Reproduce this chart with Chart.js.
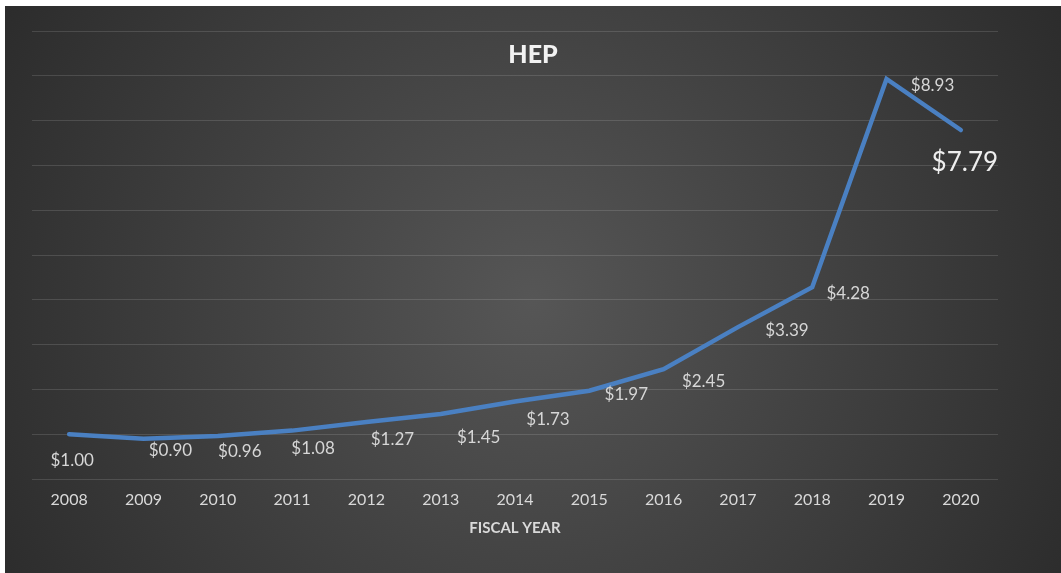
<!DOCTYPE html>
<html>
<head>
<meta charset="utf-8">
<script src="https://cdn.jsdelivr.net/npm/chart.js@4/dist/chart.umd.min.js"></script>
<style>
  html, body { margin: 0; padding: 0; background: #ffffff; }
  #wrap { position: absolute; left: 5px; top: 6px; width: 1056px; height: 567px; }
</style>
</head>
<body>
<div id="wrap"><canvas id="hepChart" width="1056" height="567"></canvas></div>
<script>
// Chart data
var years = ['2008', '2009', '2010', '2011', '2012', '2013', '2014', '2015', '2016', '2017', '2018', '2019', '2020'];
var hepValues = [1.00, 0.90, 0.96, 1.08, 1.27, 1.45, 1.73, 1.97, 2.45, 3.39, 4.28, 8.93, 7.79];

// Where each value label sits relative to its point (px)
var labelOffsets = [[3, 26], [27, 12], [22, 16], [21, 18], [26, 17], [38, 23], [33, 18], [37, 4], [40, 12], [49, 3], [36, 6], [46, 7], [4, 33]];

var FONT = 'Lato, "Open Sans", sans-serif';

// Dark radial background
var backgroundPlugin = {
  id: 'bg',
  beforeDraw: function (chart) {
    var ctx = chart.ctx;
    var w = chart.width, h = chart.height;
    var g = ctx.createRadialGradient(w * 0.5, h * 0.52, 0, w * 0.5, h * 0.52, w * 0.6);
    g.addColorStop(0, '#565656');
    g.addColorStop(1, '#2a2a2a');
    ctx.save();
    ctx.fillStyle = g;
    ctx.fillRect(0, 0, w, h);
    ctx.restore();
  }
};

// Title drawn over the plot area
var titlePlugin = {
  id: 'hepTitle',
  afterDraw: function (chart) {
    var ctx = chart.ctx;
    ctx.save();
    ctx.font = '900 25px ' + FONT;
    ctx.fillStyle = '#f2f2f2';
    ctx.textAlign = 'center';
    ctx.textBaseline = 'middle';
    ctx.fillText('HEP', 528, 49);
    ctx.restore();
  }
};

// Value labels
var valueLabelPlugin = {
  id: 'valueLabels',
  afterDatasetsDraw: function (chart) {
    var ctx = chart.ctx;
    var meta = chart.getDatasetMeta(0);
    ctx.save();
    ctx.textAlign = 'center';
    ctx.textBaseline = 'middle';
    meta.data.forEach(function (pt, i) {
      var last = i === hepValues.length - 1;
      ctx.font = (last ? '26px ' : '17px ') + FONT;
      ctx.fillStyle = last ? '#eeeeee' : '#d6d6d6';
      var off = labelOffsets[i];
      ctx.fillText('$' + hepValues[i].toFixed(2), pt.x + off[0], pt.y + off[1]);
    });
    ctx.restore();
  }
};

var ctx = document.getElementById('hepChart');
var hepChart = new Chart(ctx, {
  type: 'line',
  data: {
    labels: years,
    datasets: [{
      data: hepValues,
      borderColor: '#4a80c2',
      borderWidth: 4.5,
      pointRadius: 0,
      tension: 0,
      borderCapStyle: 'round',
      borderJoinStyle: 'miter'
    }]
  },
  options: {
    responsive: false,
    animation: false,
    devicePixelRatio: 1,
    layout: { padding: { left: 27, right: 63, top: 25, bottom: 0 } },
    plugins: {
      legend: { display: false },
      tooltip: { enabled: false }
    },
    scales: {
      x: {
        offset: true,
        grid: { display: false, drawTicks: false },
        border: { display: false },
        ticks: {
          color: '#d9d9d9',
          padding: 11,
          font: { family: FONT, size: 16 }
        },
        title: {
          display: true,
          text: 'FISCAL YEAR',
          color: '#d9d9d9',
          font: { family: FONT, size: 15, weight: 'bold' },
          padding: { top: 0, bottom: 36 }
        },
        afterFit: function (scale) { scale.height = 94; }
      },
      y: {
        min: 0,
        max: 10,
        ticks: { display: false, stepSize: 1 },
        grid: { color: 'rgba(255,255,255,0.13)', lineWidth: 1, drawTicks: false },
        border: { display: false },
        afterFit: function (scale) { scale.width = 0; }
      }
    }
  },
  plugins: [backgroundPlugin, titlePlugin, valueLabelPlugin]
});
</script>
</body>
</html>
